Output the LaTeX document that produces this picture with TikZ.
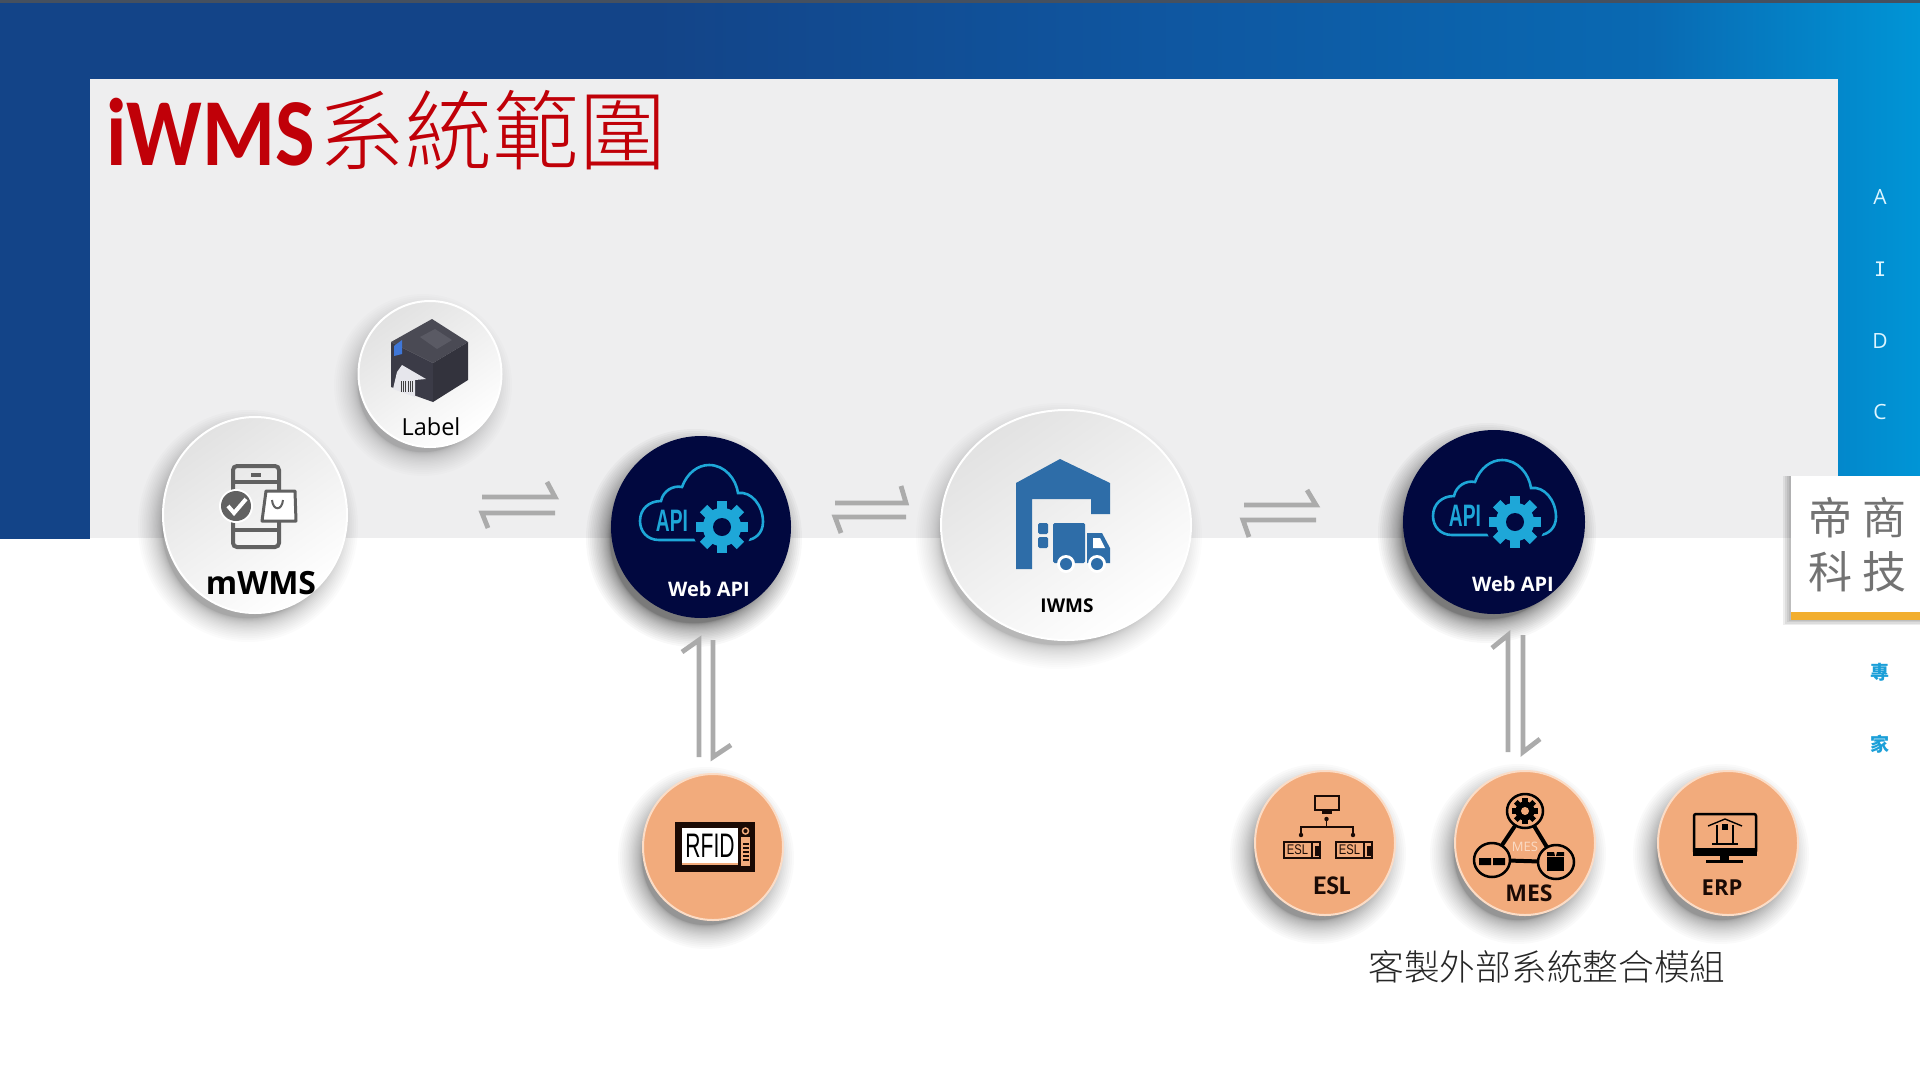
\documentclass[tikz,border=0pt]{standalone}
\usepackage{fontspec}
\usepackage{graphicx}
\usetikzlibrary{shapes.geometric,calc}
\setmainfont{Open Sans}
\newfontfamily\cjk{Noto Sans CJK TC}
\IfFontExistsTF{Noto Sans CJK TC Light}{\newfontfamily\cjkl{Noto Sans CJK TC Light}}{\newfontfamily\cjkl{Noto Sans CJK TC}}
\newfontfamily\carl{Carlito}
\newfontfamily\libs{Liberation Sans}
\newfontfamily\djmono{DejaVu Sans Mono}
\definecolor{bandA}{HTML}{134488}
\definecolor{bandB}{HTML}{0F56A0}
\definecolor{bandC}{HTML}{0969B2}
\definecolor{bandD}{HTML}{0095D6}
\definecolor{panelgray}{HTML}{EEEEEF}
\definecolor{peach}{HTML}{F2AB7C}
\definecolor{peachedge}{HTML}{FBDCC6}
\definecolor{navy}{HTML}{01083F}
\definecolor{apiblue}{HTML}{1EA7D8}
\definecolor{whblue}{HTML}{2E6DA8}
\definecolor{arrowgray}{HTML}{ABABAB}
\definecolor{iconink}{HTML}{616161}
\definecolor{titlered}{HTML}{C00008}
\definecolor{sideblue}{HTML}{1B9FD8}
\definecolor{orangebar}{HTML}{F2AE2E}
\definecolor{inkbrown}{HTML}{1A0A05}
\definecolor{topbar}{HTML}{45505F}
\definecolor{sideletter}{HTML}{DDF5FF}
\definecolor{circletop}{HTML}{E2E2E2}
\definecolor{ptop}{HTML}{4A4A54}
\definecolor{pleft}{HTML}{3B3B47}
\definecolor{pright}{HTML}{33333D}
\definecolor{pinner}{HTML}{5A5A64}
\definecolor{ppaper}{HTML}{E6E6EC}
\definecolor{pscreen}{HTML}{3F77D8}
\pgfdeclarehorizontalshading{bandshade}{100bp}{color(0bp)=(bandA);color(25bp)=(bandA);color(42bp)=(bandA);color(55bp)=(bandB);color(68bp)=(bandC);color(75bp)=(bandD);color(100bp)=(bandD)}
\tikzset{
  x=1pt,y=-1pt,
  lightcircle/.style={ellipse,inner sep=0pt,draw=white,line width=2pt,shading=axis,top color=circletop,bottom color=white,shading angle=35},
  navycircle/.style={ellipse,inner sep=0pt,fill=navy},
  peachcircle/.style={ellipse,inner sep=0pt,fill=peach,draw=peachedge,line width=2pt},
  harpoon/.style={draw=arrowgray,line width=4.8pt,line join=miter,line cap=butt},
  lbl/.style={inner sep=0pt,anchor=center},
}
\newcommand\softshadow[5]{%
  \foreach \k in {0,...,23}{%
    \pgfmathsetmacro\grow{24*(1-\k/23)*(1-\k/23)-6}
    \fill[black,opacity=#5] (#1-7,#2+11) ellipse [x radius={#3+\grow},y radius={#4+\grow}];
  }}
\newcommand\gearicon[6]{% cx cy R toothcolor holecolor holeR
  \begin{scope}[shift={(#1,#2)}]
    \foreach \a in {0,45,...,135}{\fill[#4,rotate=\a] (-#3*.2,-#3) rectangle (#3*.2,#3);}
    \fill[#4] (0,0) circle [radius=#3*.74];
    \fill[#5] (0,0) circle [radius=#6];
  \end{scope}}
\newcommand\apiicon[2]{%
  \begin{scope}[shift={(#1,#2)}]
    \draw[apiblue,line width=2.6pt] (-42,13) .. controls (-54,13) and (-61,4) .. (-61,-6) .. controls (-61,-18) and (-52,-26) .. (-40,-26) .. controls (-38,-36) and (-28,-42) .. (-19,-40) .. controls (-14,-54) and (-3,-62) .. (8,-62) .. controls (24,-62) and (35,-48) .. (37,-34) .. controls (50,-36) and (62,-22) .. (62,-5) .. controls (62,6) and (54,13) .. (45,13) -- cycle;
    \fill[navy] (21,0) circle [radius=30];
    \node[lbl,text=apiblue] at (-29,-6) {\libs\bfseries\fontsize{31}{31}\selectfont\scalebox{.62}[1]{API}};
  \end{scope}
  \gearicon{#1+21}{#2}{26}{apiblue}{navy}{9}}
\begin{document}
\begin{tikzpicture}
\useasboundingbox (0,0) rectangle (1920,1080);
% background
\fill[white] (0,0) rectangle (1920,1080);
\shade[shading=bandshade] (0,3) rectangle (1920,538);
\fill[bandA] (0,3) rectangle (90,538);
\fill[topbar] (0,0) rectangle (1920,3);
\fill[panelgray] (90,79) rectangle (1838,538.5);
\fill[white] (90,538) rectangle (1838,1080);
% side block
\foreach \k in {0,...,4}{\fill[black,opacity=.07] (1791-\k*2,476) rectangle (1920,620+\k*1.2);}
\fill[white] (1791,476) rectangle (1920,612);
\fill[orangebar] (1791,612) rectangle (1920,620);
% title
\node[inner sep=0pt,anchor=base west,text=titlered] (titleA) at (106,165) {\carl\bfseries\fontsize{96}{96}\selectfont\scalebox{.87}[1]{iWMS}};
\node[inner sep=0pt,anchor=west,text=titlered] (titleB) at (318,130) {\cjkl\fontsize{87}{87}\selectfont 系統範圍};
% side text
\node[lbl,text=sideletter] (sA) at (1880,197) {\fontsize{21}{21}\selectfont A};
\node[lbl,text=sideletter] (sI) at (1880,269) {\djmono\fontsize{20}{20}\selectfont I};
\node[lbl,text=sideletter] (sD) at (1880,341) {\fontsize{21}{21}\selectfont D};
\node[lbl,text=sideletter] (sC) at (1880,412) {\fontsize{21}{21}\selectfont C};
\node[lbl,text=black!55] (dishang) at (1857,518) {\cjk\fontsize{44}{44}\selectfont 帝\hspace{10pt}商};
\node[lbl,text=black!55] (keji) at (1857,572) {\cjk\fontsize{44}{44}\selectfont 科\hspace{10pt}技};
\node[lbl,text=sideblue] (zhuan) at (1880,672) {\cjk\bfseries\fontsize{19}{19}\selectfont 專};
\node[lbl,text=sideblue] (jia) at (1880,744) {\cjk\bfseries\fontsize{19}{19}\selectfont 家};
% shadows
\softshadow{430}{374}{71}{73}{.012}
\softshadow{255}{515}{92}{98}{.014}
\softshadow{701}{527}{90}{91}{.028}
\softshadow{1066}{525}{125}{115}{.012}
\softshadow{1494}{522}{91}{92}{.028}
\softshadow{713}{847}{70}{73}{.018}
\softshadow{1325}{843}{70}{72}{.018}
\softshadow{1525}{843}{70}{72}{.018}
\softshadow{1728}{843}{70}{72}{.018}
% circles
\node[lightcircle,minimum width=143pt,minimum height=146pt] (label) at (430,374) {};
\node[lightcircle,minimum width=184pt,minimum height=196pt] (mwms) at (255,515) {};
\node[navycircle,minimum width=180pt,minimum height=182pt] (apiA) at (701,527) {};
\node[lightcircle,minimum width=250pt,minimum height=230pt] (iwms) at (1066,525) {};
\node[navycircle,minimum width=182pt,minimum height=184pt] (apiB) at (1494,522) {};
\node[peachcircle,minimum width=140pt,minimum height=146pt] (rfid) at (713,847) {};
\node[peachcircle,minimum width=140pt,minimum height=144pt] (esl) at (1325,843) {};
\node[peachcircle,minimum width=140pt,minimum height=144pt] (mes) at (1525,843) {};
\node[peachcircle,minimum width=140pt,minimum height=144pt] (erp) at (1728,843) {};
% connectors
\draw[harpoon] ([shift={(227,-18)}]mwms.center) -- ([shift={(-146,-30)}]apiA.center) -- ++(-8,-15);
\draw[harpoon] ([shift={(-146,-14)}]apiA.center) -- ([shift={(227,-2)}]mwms.center) -- ++(6,15);
\draw[harpoon] ([shift={(134,-24)}]apiA.center) -- ([shift={(-160,-22)}]iwms.center) -- ++(-5,-17);
\draw[harpoon] ([shift={(-160,-8)}]iwms.center) -- ([shift={(134,-10)}]apiA.center) -- ++(6,16);
\draw[harpoon] ([shift={(178,-20)}]iwms.center) -- ([shift={(-178,-17)}]apiB.center) -- ++(-9,-15);
\draw[harpoon] ([shift={(-178,-2)}]apiB.center) -- ([shift={(177,-5)}]iwms.center) -- ++(6,17);
\draw[harpoon] ([shift={(-14,-90)}]rfid.center) -- ([shift={(-2,113)}]apiA.center) -- ++(-17,12);
\draw[harpoon] ([shift={(12,113)}]apiA.center) -- ([shift={(0,-90)}]rfid.center) -- ++(18,-12);
\draw[harpoon] ([shift={(-17,-91)}]mes.center) -- ([shift={(14,113)}]apiB.center) -- ++(-16,13);
\draw[harpoon] ([shift={(29,113)}]apiB.center) -- ([shift={(-2,-91)}]mes.center) -- ++(17,-13);
% mWMS icon
\draw[iconink,line width=4pt,rounded corners=4pt] (233,466) rectangle (279,547);
\draw[iconink,line width=3.5pt] (233,482) -- (279,482) (233,530) -- (279,530);
\fill[iconink] (251,473) rectangle (261,477);
\fill[white] (262,521) -- (266,491) -- (295,491) -- (296,521) -- cycle;
\draw[iconink,line width=3pt,line join=round] (262,521) -- (266,491) -- (295,491) -- (296,521) -- cycle;
\draw[iconink,line width=2pt] (272,500) .. controls (273,511) and (282,511) .. (283,500);
\fill[white] (236,506) circle [radius=17];
\fill[iconink] (236,506) circle [radius=15];
\draw[white,line width=4pt] (228,506) -- (234,513) -- (246,499);
\node[lbl] (mwmsT) at (261,583) {\bfseries\fontsize{32}{32}\selectfont mWMS};
% printer icon
\fill[ptop] (391,342) -- (432,319) -- (468,342) -- (433,363) -- cycle;
\fill[pleft] (391,342) -- (433,363) -- (433,402) -- (391,387) -- cycle;
\fill[pright] (433,363) -- (468,342) -- (468,380) -- (433,402) -- cycle;
\fill[pinner] (420,337) -- (435,329) -- (452,340) -- (437,349) -- cycle;
\fill[pscreen] (394,346) -- (402,340) -- (402,354) -- (394,356) -- cycle;
\fill[ppaper] (402,365) -- (426,379) -- (415,380) -- (415,397) -- (393,389) -- (397,372) -- cycle;
\foreach \xx in {401.5,403.5,405.5,408,410,412.5}{\draw[black!75,line width=1pt] (\xx,381) -- (\xx,392);}
\node[lbl] (labelT) at (431,427) {\fontsize{23.5}{24}\selectfont Label};
% API icons
\apiicon{701}{527}
\apiicon{1494}{522}
\node[lbl,text=white] (apiAT) at (709,589) {\bfseries\fontsize{20}{20}\selectfont Web API};
\node[lbl,text=white] (apiBT) at (1513,584) {\bfseries\fontsize{20}{20}\selectfont Web API};
% warehouse
\fill[whblue] (1016,569) -- (1016,483) -- (1060,459) -- (1110,483) -- (1110,514) -- (1091,514) -- (1091,499) -- (1032,499) -- (1032,569) -- cycle;
\fill[whblue,rounded corners=1.5pt] (1038,523) rectangle (1048,534);
\fill[whblue,rounded corners=1.5pt] (1038,537) rectangle (1048,548);
\fill[whblue,rounded corners=1.5pt] (1053,523) rectangle (1085,563);
\fill[whblue] (1087,563) -- (1087,533) -- (1102,533) -- (1110,548) -- (1110,563) -- cycle;
\fill[white] (1093,538) -- (1100,538) -- (1105,548) -- (1093,548) -- cycle;
\foreach \wx in {1066,1097}{\fill[white] (\wx,564) circle [radius=9];\fill[whblue] (\wx,564) circle [radius=6];}
\node[lbl] (iwmsT) at (1067,606) {\bfseries\fontsize{19}{19}\selectfont IWMS};
% RFID
\fill[inkbrown] (675,822) rectangle (755,872);
\fill[white] (682,828) rectangle (738,863);
\fill[peach] (682,863) rectangle (738,865);
\node[lbl,text=black] (rfidT) at (710,846) {\libs\fontsize{34}{34}\selectfont\scalebox{.62}[1]{RFID}};
\fill[peach] (741,837) rectangle (750,866);
\draw[peach,line width=1.5pt] (745.5,831) circle [radius=3];
\foreach \yy in {843,847,851,855,859}{\fill[inkbrown] (742.5,\yy) rectangle (748.5,\yy+2);}
% ESL
\draw[inkbrown,line width=1.6pt] (1315,796) rectangle (1339,810);
\fill[inkbrown] (1322,811) rectangle (1332,813.5);
\draw[inkbrown,line width=1.4pt] (1326.5,819) -- (1326.5,827) (1301,835) -- (1301,827) -- (1353,827) -- (1353,835);
\fill[inkbrown] (1326.5,819) circle [radius=2.2] (1301,835) circle [radius=2.2] (1353,835) circle [radius=2.2];
\foreach \bx in {1284,1336}{%
  \draw[inkbrown,line width=1.6pt] (\bx,842) rectangle (\bx+36,858);
  \fill[inkbrown] (\bx+27,842) rectangle (\bx+29,858);
  \fill[inkbrown] (\bx+30.5,846) rectangle (\bx+35,856);
  \node[lbl,text=inkbrown] at (\bx+13.5,850) {\libs\fontsize{14}{14}\selectfont\scalebox{.8}[1]{ESL}};
}
\node[lbl,text=inkbrown] (eslT) at (1332,886) {\carl\bfseries\fontsize{27}{27}\selectfont ESL};
% MES
\draw[black,line width=4pt] (1525,811) -- (1492,860) -- (1556,862) -- cycle;
\fill[peach] (1525,811) ellipse [x radius=18,y radius=17];
\fill[peach] (1492,860) ellipse [x radius=18,y radius=17];
\fill[peach] (1556,862) ellipse [x radius=18,y radius=17];
\draw[black,line width=2.5pt] (1525,811) ellipse [x radius=18,y radius=17];
\draw[black,line width=2.5pt] (1492,860) ellipse [x radius=18,y radius=17];
\draw[black,line width=2.5pt] (1556,862) ellipse [x radius=18,y radius=17];
\gearicon{1525}{811}{13}{black}{peach}{4}
\fill[black] (1479,858) rectangle (1491,865) (1493,858) rectangle (1505,865);
\fill[black] (1547,857) rectangle (1564,871);
\fill[black] (1547,852) -- (1554,852) -- (1555,856) -- (1547,856) -- cycle;
\fill[black] (1557,852) -- (1564,852) -- (1564,856) -- (1556,856) -- cycle;
\node[lbl,text=peachedge] (mesI) at (1525,847) {\fontsize{13}{13}\selectfont MES};
\node[lbl,text=inkbrown] (mesT) at (1529,893) {\bfseries\fontsize{23}{23}\selectfont MES};
% ERP
\draw[black,line width=2.5pt,rounded corners=2pt] (1694,814) rectangle (1756,853);
\fill[black] (1693,848) rectangle (1757,856);
\fill[black] (1720,856) rectangle (1729,861);
\fill[black] (1706,860) rectangle (1743,863);
\draw[black,line width=1.4pt] (1708,826) -- (1725,819) -- (1742,826);
\draw[black,line width=1.4pt] (1717,843) -- (1717,825) (1733,843) -- (1733,825) (1712,844) -- (1738,844);
\fill[black] (1722,824) rectangle (1728,830);
\node[lbl,text=inkbrown] (erpT) at (1722,888) {\bfseries\fontsize{22}{22}\selectfont ERP};
% caption
\node[lbl,text=black!85] (caption) at (1547,967) {\cjkl\fontsize{35.7}{36}\selectfont 客製外部系統整合模組};
\end{tikzpicture}
\end{document}
